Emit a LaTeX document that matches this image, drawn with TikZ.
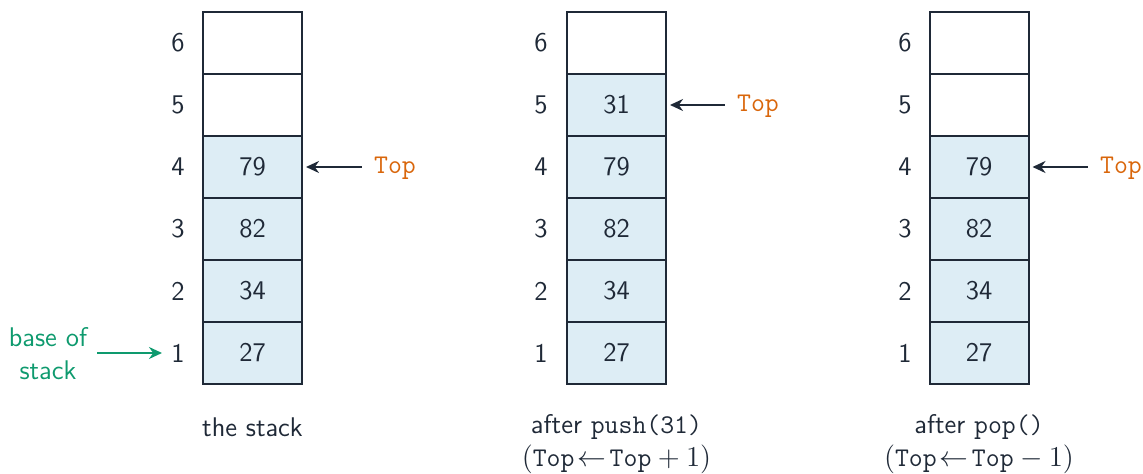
\documentclass[tikz,border=0pt]{standalone}
\usetikzlibrary{arrows.meta}
\definecolor{edgec}{HTML}{1F2937}
\definecolor{cellfill}{HTML}{DDEDF5}
\definecolor{topc}{HTML}{D9660B}
\definecolor{basec}{HTML}{0E9A6E}
\definecolor{txtc}{HTML}{1F2937}
\begin{document}
\begin{tikzpicture}[x=0.5pt,y=-0.5pt,
  font=\sffamily\fontsize{13.5}{16.5}\selectfont,
  cellbox/.style={draw=edgec,line width=1pt,minimum width=49.5pt,minimum height=31pt,inner sep=0pt,text=txtc},
  full/.style={cellbox,fill=cellfill},
  empty/.style={cellbox,fill=white},
  idx/.style={text=txtc,inner sep=0pt},
  toplbl/.style={text=topc,font=\ttfamily\fontsize{13.5}{16.5}\selectfont,inner sep=2pt},
  toparrow/.style={draw=edgec,line width=1pt,-{Stealth[length=6.5pt,width=6pt]}},
  captxt/.style={text=txtc,align=center,inner sep=0pt}
]
\useasboundingbox (0,0) rectangle (1143,474);
% stack 1
\node[empty] (a6) at (252.5,43) {};
\node[empty] (a5) at (252.5,105) {};
\node[full] (a4) at (252.5,167) {79};
\node[full] (a3) at (252.5,229) {82};
\node[full] (a2) at (252.5,291) {34};
\node[full] (a1) at (252.5,353) {27};
% stack 2
\node[empty] (b6) at (616.5,43) {};
\node[full] (b5) at (616.5,105) {31};
\node[full] (b4) at (616.5,167) {79};
\node[full] (b3) at (616.5,229) {82};
\node[full] (b2) at (616.5,291) {34};
\node[full] (b1) at (616.5,353) {27};
% stack 3
\node[empty] (c6) at (979,43) {};
\node[empty] (c5) at (979,105) {};
\node[full] (c4) at (979,167) {79};
\node[full] (c3) at (979,229) {82};
\node[full] (c2) at (979,291) {34};
\node[full] (c1) at (979,353) {27};
% indices
\foreach \s/\x in {a/178,b/541,c/905}{
  \foreach \i/\y in {6/43,5/105,4/167,3/229,2/291,1/353}{
    \node[idx] (\s i\i) at (\x,\y) {\i};
  }
}
% Top labels
\node[toplbl] (ta) at (395,168) {Top};
\node[toplbl] (tb) at (758,106) {Top};
\node[toplbl] (tc) at (1121,168) {Top};
\draw[toparrow] (ta.west |- a4) ++(-8,0) -- ([xshift=1.5pt]a4.east);
\draw[toparrow] (tb.west |- b5) ++(-8,0) -- ([xshift=1.5pt]b5.east);
\draw[toparrow] (tc.west |- c4) ++(-8,0) -- ([xshift=1.5pt]c4.east);
% base of stack
\node[text=basec,align=center,inner sep=0pt] (base) at (48,354) {base of\\stack};
\draw[draw=basec,line width=1pt,-{Stealth[length=6.5pt,width=6pt]}] (base.east |- ai1) ++(10,0) -- ([xshift=-4.5pt]ai1.west);
% captions
\node[captxt] (capa) at (252.5,427) {the stack};
\node[captxt] (capb) at (616.5,444) {after \texttt{push(31)}\\$(\texttt{Top}\!\leftarrow\!\texttt{Top}+1)$};
\node[captxt] (capc) at (979,444) {after \texttt{pop()}\\$(\texttt{Top}\!\leftarrow\!\texttt{Top}-1)$};
\end{tikzpicture}
\end{document}
